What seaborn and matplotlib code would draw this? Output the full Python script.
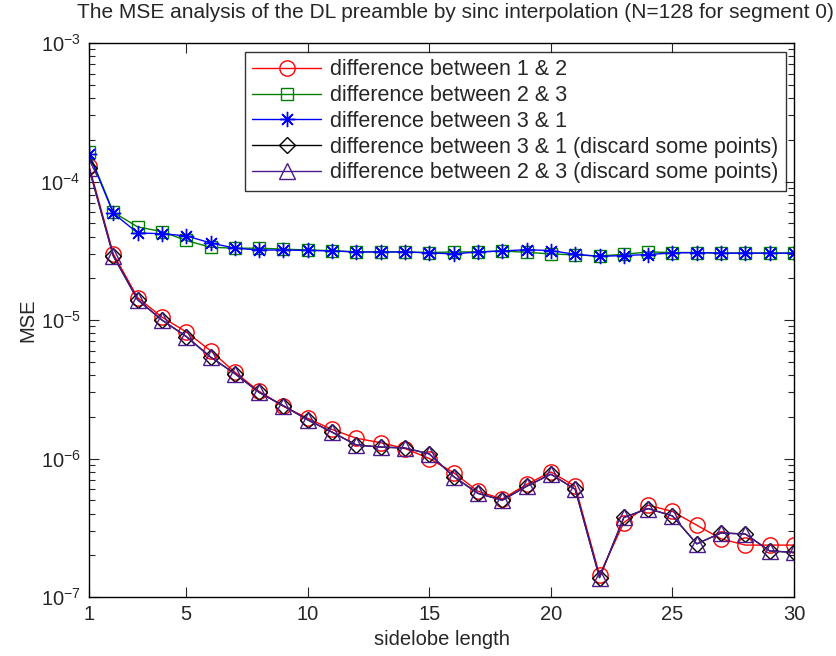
import numpy as np
import pandas as pd
import matplotlib
matplotlib.use("Agg")
import matplotlib.pyplot as plt
import seaborn as sns
from matplotlib.ticker import LogLocator, NullFormatter

x = list(range(1, 31))

diff_12 = [1.30e-4, 3.0e-5, 1.45e-5, 1.05e-5, 8.2e-6, 6.0e-6, 4.2e-6, 3.05e-6, 2.38e-6, 1.95e-6,
           1.62e-6, 1.40e-6, 1.30e-6, 1.18e-6, 1.0e-6, 7.9e-7, 5.8e-7, 5.1e-7, 6.5e-7, 8.0e-7,
           6.3e-7, 1.44e-7, 3.45e-7, 4.6e-7, 4.15e-7, 3.3e-7, 2.63e-7, 2.37e-7, 2.37e-7, 2.37e-7]
diff_23 = [1.62e-4, 6.0e-5, 4.7e-5, 4.35e-5, 3.75e-5, 3.35e-5, 3.3e-5, 3.3e-5, 3.25e-5, 3.2e-5,
           3.17e-5, 3.1e-5, 3.1e-5, 3.1e-5, 3.07e-5, 3.1e-5, 3.1e-5, 3.15e-5, 3.08e-5, 3.0e-5,
           2.95e-5, 2.9e-5, 2.98e-5, 3.1e-5, 3.07e-5, 3.07e-5, 3.04e-5, 3.04e-5, 3.04e-5, 3.04e-5]
diff_31 = [1.57e-4, 5.9e-5, 4.25e-5, 4.2e-5, 4.05e-5, 3.6e-5, 3.3e-5, 3.2e-5, 3.2e-5, 3.18e-5,
           3.15e-5, 3.1e-5, 3.1e-5, 3.1e-5, 3.05e-5, 3.0e-5, 3.1e-5, 3.15e-5, 3.22e-5, 3.17e-5,
           2.98e-5, 2.88e-5, 2.92e-5, 2.97e-5, 3.05e-5, 3.07e-5, 3.04e-5, 3.04e-5, 3.04e-5, 3.04e-5]
diff_31_d = [1.25e-4, 2.9e-5, 1.4e-5, 1.0e-5, 7.6e-6, 5.4e-6, 4.1e-6, 3.0e-6, 2.4e-6, 1.9e-6,
             1.55e-6, 1.25e-6, 1.21e-6, 1.19e-6, 1.08e-6, 7.4e-7, 5.6e-7, 5.0e-7, 6.3e-7, 7.7e-7,
             6.0e-7, 1.38e-7, 3.75e-7, 4.35e-7, 3.85e-7, 2.42e-7, 2.9e-7, 2.85e-7, 2.15e-7, 2.1e-7]
diff_23_d = [1.25e-4, 2.9e-5, 1.4e-5, 1.0e-5, 7.6e-6, 5.4e-6, 4.1e-6, 3.0e-6, 2.4e-6, 1.9e-6,
             1.55e-6, 1.25e-6, 1.21e-6, 1.19e-6, 1.08e-6, 7.4e-7, 5.6e-7, 5.0e-7, 6.3e-7, 7.7e-7,
             6.0e-7, 1.38e-7, 3.75e-7, 4.35e-7, 3.85e-7, 2.42e-7, 2.9e-7, 2.85e-7, 2.15e-7, 2.1e-7]

labels = ["difference between 1 & 2",
          "difference between 2 & 3",
          "difference between 3 & 1",
          "difference between 3 & 1 (discard some points)",
          "difference between 2 & 3 (discard some points)"]
series = [diff_12, diff_23, diff_31, diff_31_d, diff_23_d]
colors = ["#ff0000", "#008000", "#0000ff", "#000000", "#4b1a8c"]
markers = ["o", "s", (8, 2, 0), "D", "^"]
msizes = [11, 9, 11, 8.5, 11]

sns.set_style("ticks")
plt.rcParams['font.family'] = ['Liberation Sans', 'DejaVu Sans']
plt.rcParams['mathtext.fontset'] = 'custom'
plt.rcParams['mathtext.rm'] = 'Liberation Sans'
plt.rcParams['mathtext.it'] = 'Liberation Sans'
plt.rcParams['mathtext.default'] = 'regular'

fig = plt.figure(figsize=(8.36, 6.56), dpi=100)
ax = fig.add_axes([89 / 836, 59 / 656, 705 / 836, 554 / 656])

for ys, lab, c, m, ms in zip(series, labels, colors, markers, msizes):
    df = pd.DataFrame({"x": x, "y": ys})
    sns.lineplot(data=df, x="x", y="y", ax=ax, color=c, marker=m, markersize=ms,
                 markerfacecolor="none", markeredgecolor=c, markeredgewidth=1.0,
                 linewidth=1.0, label=lab)

ax.set_yscale("log")
ax.set_xlim(1, 30)
ax.set_ylim(1e-7, 1e-3)
ax.set_xticks([1, 5, 10, 15, 20, 25, 30])
ax.yaxis.set_major_locator(LogLocator(base=10, numticks=10))
ax.yaxis.set_minor_locator(LogLocator(base=10, subs=np.arange(2, 10), numticks=20))
ax.yaxis.set_minor_formatter(NullFormatter())
ax.tick_params(which="both", direction="in", top=True, right=True, labelsize=14.5, width=0.8)
ax.tick_params(which="major", length=7, pad=6)
ax.tick_params(which="minor", length=4)
for s in ax.spines.values():
    s.set_linewidth(1.0)
    s.set_color("black")

ax.set_xlabel("sidelobe length", fontsize=14.5, labelpad=4)
ax.set_ylabel("MSE", fontsize=14.5, labelpad=2)
fig.text(455 / 836, 1 - 12 / 656,
         "The MSE analysis of the DL preamble by sinc interpolation (N=128 for segment 0)",
         fontsize=15, ha="center", va="center")

leg = ax.legend(loc="upper right", bbox_to_anchor=(0.988, 0.984), fontsize=15.5, frameon=True,
                fancybox=False, edgecolor="black", handlelength=3.2, borderpad=0.35,
                labelspacing=0.22, handletextpad=0.4, borderaxespad=0.0)
leg.get_frame().set_linewidth(1.0)

fig.savefig("out.png", dpi=100, facecolor="white")
